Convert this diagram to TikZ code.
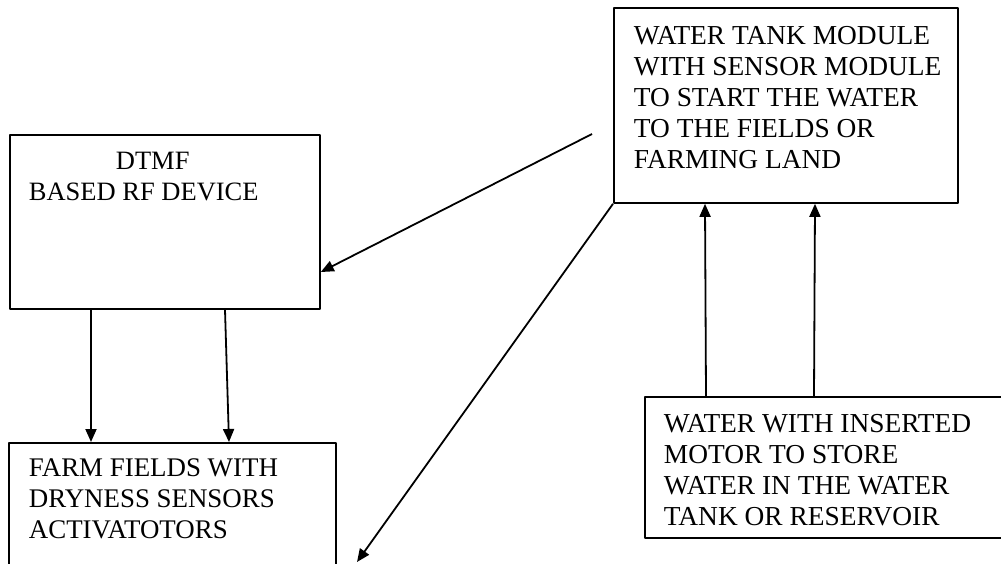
\documentclass[tikz,border=0pt]{standalone}
\usepackage{fontspec}
\setmainfont{Liberation Serif}
\usetikzlibrary{arrows.meta}
\begin{document}
\begin{tikzpicture}[x=1pt, y=-1pt, line width=1.8pt, line join=round, >={Triangle[length=13pt,width=11pt]},
		box/.style={draw, rectangle, inner sep=0pt, anchor=north west},
		txt/.style={anchor=north west, inner sep=0pt, align=left, font=\fontsize{#1}{31}\selectfont},
		txt/.default=26.5]
				\useasboundingbox (0,0) rectangle (1001,563);
				\clip (0,0) rectangle (1001,563);
				% blocks
				\node[box, minimum width=310pt, minimum height=174pt] (dtmf) at (9,134) {};
				\node[box, minimum width=344pt, minimum height=195pt] (tank) at (613,7) {};
				\node[box, minimum width=327pt, minimum height=160pt] (farm) at (8,442) {};
				\node[box, minimum width=380pt, minimum height=141pt] (resv) at (644,396) {};
				% texts
				\node[txt] (dtmfText) at (28,151) {\hspace*{87pt}DTMF\\BASED RF DEVICE};
				\node[txt=27.4] (tankText) at (633,25) {WATER TANK MODULE\\WITH SENSOR MODULE\\TO START THE WATER\\TO THE FIELDS OR\\FARMING LAND};
				\node[txt=26.9] (farmText) at (28,458) {FARM FIELDS WITH\\DRYNESS SENSORS\\ACTIVATOTORS};
				\node[txt=27.4] (resvText) at (663,413) {WATER WITH INSERTED\\MOTOR TO STORE\\WATER IN THE WATER\\TANK OR RESERVOIR};
				% connectors
				\path	(592,134) coordinate (tankFrom)
				(357,562) coordinate (fieldEnd);
				\draw[->] (tankFrom)--(dtmf.east |- 0,272);
				\draw[->] (tank.south west)--(fieldEnd);
				\draw[->] (dtmf.south -| 91,0)--(farm.north -| 91,0);
				\draw[->] (dtmf.south -| 225,0)--(farm.north -| 229,0);
				\draw[->] (resv.north -| 706,0)--(tank.south -| 705,0);
				\draw[->] (resv.north -| 814,0)--(tank.south -| 815,0);
		\end{tikzpicture}
\end{document}
